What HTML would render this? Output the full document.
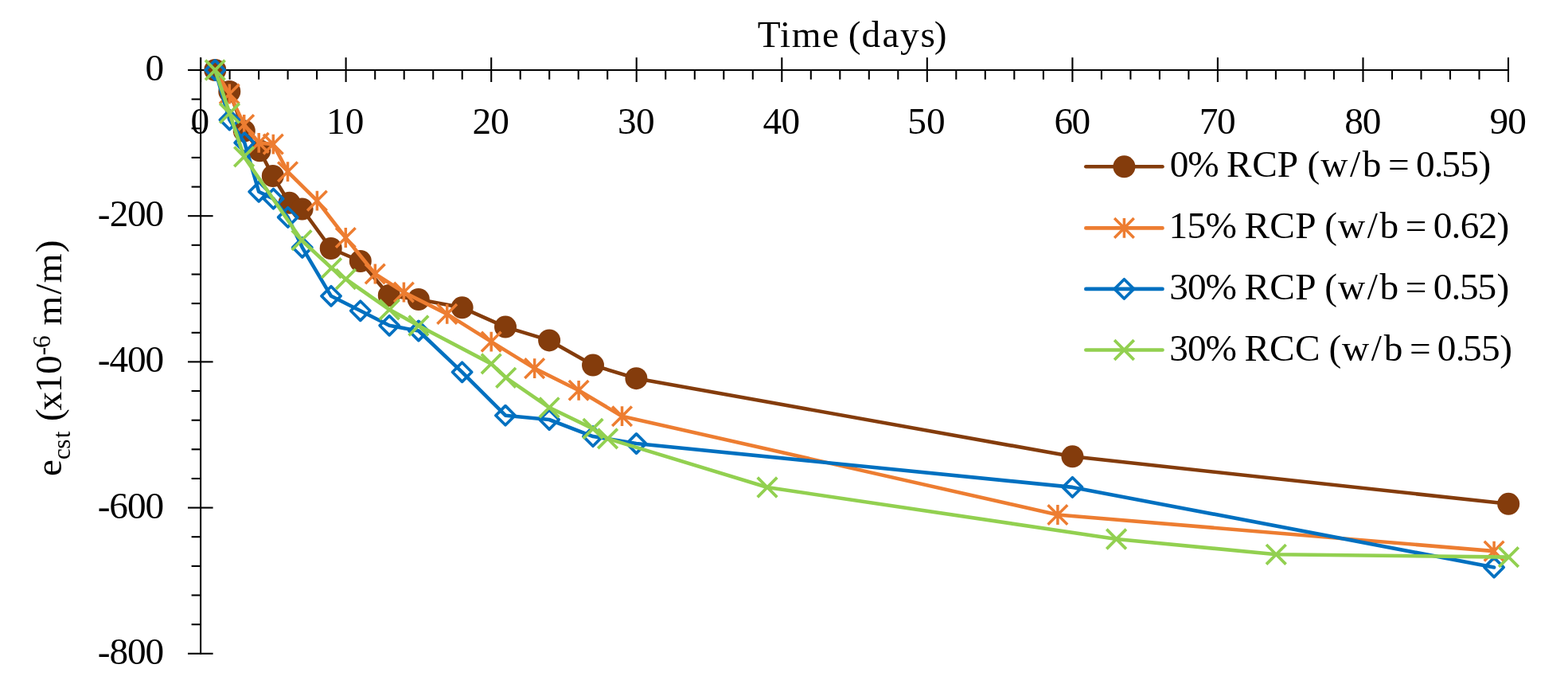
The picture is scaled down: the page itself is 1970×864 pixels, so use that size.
<!DOCTYPE html>
<html><head><meta charset="utf-8"><title>Chart</title>
<style>html,body{margin:0;padding:0;background:#fff;} svg{display:block;}</style>
</head><body>
<svg width="1970" height="864" viewBox="0 0 1970 864">
<rect width="1970" height="864" fill="#fff"/>
<g stroke="#000" stroke-width="2.1" fill="none"><line x1="236" y1="88" x2="1895.9" y2="88" /><line x1="252.1" y1="72.2" x2="252.1" y2="821.8" /><line x1="252.1" y1="72.2" x2="252.1" y2="103" /><line x1="434.6" y1="72.2" x2="434.6" y2="103" /><line x1="617.2" y1="72.2" x2="617.2" y2="103" /><line x1="799.7" y1="72.2" x2="799.7" y2="103" /><line x1="982.3" y1="72.2" x2="982.3" y2="103" /><line x1="1164.8" y1="72.2" x2="1164.8" y2="103" /><line x1="1347.4" y1="72.2" x2="1347.4" y2="103" /><line x1="1529.9" y1="72.2" x2="1529.9" y2="103" /><line x1="1712.5" y1="72.2" x2="1712.5" y2="103" /><line x1="1895.0" y1="72.2" x2="1895.0" y2="103" /><line x1="288.6" y1="88" x2="288.6" y2="99.8" /><line x1="325.1" y1="88" x2="325.1" y2="99.8" /><line x1="361.6" y1="88" x2="361.6" y2="99.8" /><line x1="398.1" y1="88" x2="398.1" y2="99.8" /><line x1="471.2" y1="88" x2="471.2" y2="99.8" /><line x1="507.7" y1="88" x2="507.7" y2="99.8" /><line x1="544.2" y1="88" x2="544.2" y2="99.8" /><line x1="580.7" y1="88" x2="580.7" y2="99.8" /><line x1="653.7" y1="88" x2="653.7" y2="99.8" /><line x1="690.2" y1="88" x2="690.2" y2="99.8" /><line x1="726.7" y1="88" x2="726.7" y2="99.8" /><line x1="763.2" y1="88" x2="763.2" y2="99.8" /><line x1="836.2" y1="88" x2="836.2" y2="99.8" /><line x1="872.8" y1="88" x2="872.8" y2="99.8" /><line x1="909.3" y1="88" x2="909.3" y2="99.8" /><line x1="945.8" y1="88" x2="945.8" y2="99.8" /><line x1="1018.8" y1="88" x2="1018.8" y2="99.8" /><line x1="1055.3" y1="88" x2="1055.3" y2="99.8" /><line x1="1091.8" y1="88" x2="1091.8" y2="99.8" /><line x1="1128.3" y1="88" x2="1128.3" y2="99.8" /><line x1="1201.3" y1="88" x2="1201.3" y2="99.8" /><line x1="1237.8" y1="88" x2="1237.8" y2="99.8" /><line x1="1274.3" y1="88" x2="1274.3" y2="99.8" /><line x1="1310.9" y1="88" x2="1310.9" y2="99.8" /><line x1="1383.9" y1="88" x2="1383.9" y2="99.8" /><line x1="1420.4" y1="88" x2="1420.4" y2="99.8" /><line x1="1456.9" y1="88" x2="1456.9" y2="99.8" /><line x1="1493.4" y1="88" x2="1493.4" y2="99.8" /><line x1="1566.4" y1="88" x2="1566.4" y2="99.8" /><line x1="1602.9" y1="88" x2="1602.9" y2="99.8" /><line x1="1639.4" y1="88" x2="1639.4" y2="99.8" /><line x1="1675.9" y1="88" x2="1675.9" y2="99.8" /><line x1="1749.0" y1="88" x2="1749.0" y2="99.8" /><line x1="1785.5" y1="88" x2="1785.5" y2="99.8" /><line x1="1822.0" y1="88" x2="1822.0" y2="99.8" /><line x1="1858.5" y1="88" x2="1858.5" y2="99.8" /><line x1="236" y1="88.0" x2="267.6" y2="88.0" /><line x1="236" y1="271.2" x2="267.6" y2="271.2" /><line x1="236" y1="454.4" x2="267.6" y2="454.4" /><line x1="236" y1="637.6" x2="267.6" y2="637.6" /><line x1="236" y1="820.8" x2="267.6" y2="820.8" /><line x1="240.6" y1="124.6" x2="252.1" y2="124.6" /><line x1="240.6" y1="161.3" x2="252.1" y2="161.3" /><line x1="240.6" y1="197.9" x2="252.1" y2="197.9" /><line x1="240.6" y1="234.6" x2="252.1" y2="234.6" /><line x1="240.6" y1="307.8" x2="252.1" y2="307.8" /><line x1="240.6" y1="344.5" x2="252.1" y2="344.5" /><line x1="240.6" y1="381.1" x2="252.1" y2="381.1" /><line x1="240.6" y1="417.8" x2="252.1" y2="417.8" /><line x1="240.6" y1="491.0" x2="252.1" y2="491.0" /><line x1="240.6" y1="527.7" x2="252.1" y2="527.7" /><line x1="240.6" y1="564.3" x2="252.1" y2="564.3" /><line x1="240.6" y1="601.0" x2="252.1" y2="601.0" /><line x1="240.6" y1="674.2" x2="252.1" y2="674.2" /><line x1="240.6" y1="710.9" x2="252.1" y2="710.9" /><line x1="240.6" y1="747.5" x2="252.1" y2="747.5" /><line x1="240.6" y1="784.2" x2="252.1" y2="784.2" /></g>
<g font-family="'Liberation Serif', serif" fill="#000"><text x="951.77 979.98 994.63 1032.90 1053.20 1065.70 1082.61 1108.54 1130.93 1156.43 1173.80" y="58.90" font-size="47.3">Time (days)</text><text x="239.38" y="167.80" font-size="47.3">0</text><text x="410.01 433.82" y="167.80" font-size="47.3">10</text><text x="593.53 616.36" y="167.80" font-size="47.3">20</text><text x="776.05 798.91" y="167.80" font-size="47.3">30</text><text x="958.56 981.45" y="167.80" font-size="47.3">40</text><text x="1140.15 1164.00" y="167.80" font-size="47.3">50</text><text x="1324.43 1346.54" y="167.80" font-size="47.3">60</text><text x="1506.76 1529.09" y="167.80" font-size="47.3">70</text><text x="1689.13 1711.63" y="167.80" font-size="47.3">80</text><text x="1871.58 1894.17" y="167.80" font-size="47.3">90</text><text x="182.57" y="100.90" font-size="47.3">0</text><text x="122.75 137.74 160.08 182.58" y="284.10" font-size="47.3">-200</text><text x="122.75 137.38 160.08 182.58" y="467.30" font-size="47.3">-400</text><text x="122.75 137.16 160.08 182.58" y="650.50" font-size="47.3">-600</text><text x="122.75 137.48 160.08 182.58" y="833.70" font-size="47.3">-800</text></g>
<g font-family="'Liberation Serif', serif" fill="#000"><text transform="translate(76.5,600) rotate(-90)" font-size="47.3"><tspan x="1.95" y="0.00" font-size="47.3">e</tspan><tspan x="22.74 36.39 49.71" y="11.00" font-size="31.5">cst</tspan><tspan x="0.00 70.90 84.61 106.82 130.38" y="0.00" font-size="47.3"> (x10</tspan><tspan x="153.84 163.12" y="-13.20" font-size="31.5">-6</tspan><tspan x="0.00 191.58 230.33 244.83 282.65" y="0.00" font-size="47.3"> m/m)</tspan></text></g>
<path d="M270.3,88.0 L288.3,115.0 L306.8,164.5 L326.3,189.3 L342.8,221.0 L363.6,254.8 L379.6,262.5 L415.7,312.0 L452.8,328.0 L488.8,371.0 L525.8,376.0 L580.6,386.3 L635.0,410.6 L690.1,427.4 L745.0,458.6 L799.4,475.2 L1347.4,573.3 L1895.2,632.8" fill="none" stroke="#843C0C" stroke-width="4.6" stroke-linejoin="round" stroke-linecap="round"/><g fill="#843C0C"><circle cx="270.3" cy="88.0" r="14"/><circle cx="288.3" cy="115.0" r="14"/><circle cx="306.8" cy="164.5" r="14"/><circle cx="326.3" cy="189.3" r="14"/><circle cx="342.8" cy="221.0" r="14"/><circle cx="363.6" cy="254.8" r="14"/><circle cx="379.6" cy="262.5" r="14"/><circle cx="415.7" cy="312.0" r="14"/><circle cx="452.8" cy="328.0" r="14"/><circle cx="488.8" cy="371.0" r="14"/><circle cx="525.8" cy="376.0" r="14"/><circle cx="580.6" cy="386.3" r="14"/><circle cx="635.0" cy="410.6" r="14"/><circle cx="690.1" cy="427.4" r="14"/><circle cx="745.0" cy="458.6" r="14"/><circle cx="799.4" cy="475.2" r="14"/><circle cx="1347.4" cy="573.3" r="14"/><circle cx="1895.2" cy="632.8" r="14"/></g>
<path d="M270.3,88.0 L288.3,118.0 L306.7,156.5 L325.2,179.4 L343.3,181.1 L361.5,215.7 L398.4,252.1 L434.3,298.5 L471.3,344.0 L507.4,367.0 L561.7,394.4 L617.2,429.1 L671.6,462.6 L727.1,490.3 L781.5,522.7 L1328.9,646.5 L1877.1,692.1" fill="none" stroke="#ED7D31" stroke-width="4.6" stroke-linejoin="round" stroke-linecap="round"/><g fill="none" stroke="#ED7D31" stroke-width="3.5"><path d="M276.0,105.7 L300.6,130.3 M276.0,130.3 L300.6,105.7 M288.3,105.6 L288.3,130.4"/><path d="M294.4,144.2 L319.0,168.8 M294.4,168.8 L319.0,144.2 M306.7,144.1 L306.7,168.9"/><path d="M312.9,167.1 L337.5,191.7 M312.9,191.7 L337.5,167.1 M325.2,167.0 L325.2,191.8"/><path d="M331.0,168.8 L355.6,193.4 M331.0,193.4 L355.6,168.8 M343.3,168.7 L343.3,193.5"/><path d="M349.2,203.4 L373.8,228.0 M349.2,228.0 L373.8,203.4 M361.5,203.3 L361.5,228.1"/><path d="M386.1,239.8 L410.7,264.4 M386.1,264.4 L410.7,239.8 M398.4,239.7 L398.4,264.5"/><path d="M422.0,286.2 L446.6,310.8 M422.0,310.8 L446.6,286.2 M434.3,286.1 L434.3,310.9"/><path d="M459.0,331.7 L483.6,356.3 M459.0,356.3 L483.6,331.7 M471.3,331.6 L471.3,356.4"/><path d="M495.1,354.7 L519.7,379.3 M495.1,379.3 L519.7,354.7 M507.4,354.6 L507.4,379.4"/><path d="M549.4,382.1 L574.0,406.7 M549.4,406.7 L574.0,382.1 M561.7,382.0 L561.7,406.8"/><path d="M604.9,416.8 L629.5,441.4 M604.9,441.4 L629.5,416.8 M617.2,416.7 L617.2,441.5"/><path d="M659.3,450.3 L683.9,474.9 M659.3,474.9 L683.9,450.3 M671.6,450.2 L671.6,475.0"/><path d="M714.8,478.0 L739.4,502.6 M714.8,502.6 L739.4,478.0 M727.1,477.9 L727.1,502.7"/><path d="M769.2,510.4 L793.8,535.0 M769.2,535.0 L793.8,510.4 M781.5,510.3 L781.5,535.1"/><path d="M1316.6,634.2 L1341.2,658.8 M1316.6,658.8 L1341.2,634.2 M1328.9,634.1 L1328.9,658.9"/><path d="M1864.8,679.8 L1889.4,704.4 M1864.8,704.4 L1889.4,679.8 M1877.1,679.7 L1877.1,704.5"/></g>
<path d="M270.3,88.0 L288.4,150.5 L307.2,179.2 L325.2,240.8 L343.5,249.6 L361.7,272.9 L379.8,310.8 L416.0,371.8 L452.8,390.3 L489.2,408.8 L525.9,415.5 L580.6,467.3 L635.0,521.7 L690.1,527.0 L745.0,548.1 L799.5,557.0 L1347.4,611.9 L1877.1,712.5" fill="none" stroke="#0070C0" stroke-width="4.6" stroke-linejoin="round" stroke-linecap="round"/><g fill="none" stroke="#0070C0" stroke-width="3.7" stroke-linejoin="round"><path d="M270.3,75.9 L282.4,88.0 L270.3,100.1 L258.2,88.0 Z"/><path d="M288.4,138.4 L300.5,150.5 L288.4,162.6 L276.3,150.5 Z"/><path d="M307.2,167.1 L319.3,179.2 L307.2,191.3 L295.1,179.2 Z"/><path d="M325.2,228.7 L337.3,240.8 L325.2,252.9 L313.1,240.8 Z"/><path d="M343.5,237.5 L355.6,249.6 L343.5,261.7 L331.4,249.6 Z"/><path d="M361.7,260.8 L373.8,272.9 L361.7,285.0 L349.6,272.9 Z"/><path d="M379.8,298.7 L391.9,310.8 L379.8,322.9 L367.7,310.8 Z"/><path d="M416.0,359.7 L428.1,371.8 L416.0,383.9 L403.9,371.8 Z"/><path d="M452.8,378.2 L464.9,390.3 L452.8,402.4 L440.7,390.3 Z"/><path d="M489.2,396.7 L501.3,408.8 L489.2,420.9 L477.1,408.8 Z"/><path d="M525.9,403.4 L538.0,415.5 L525.9,427.6 L513.8,415.5 Z"/><path d="M580.6,455.2 L592.7,467.3 L580.6,479.4 L568.5,467.3 Z"/><path d="M635.0,509.6 L647.1,521.7 L635.0,533.8 L622.9,521.7 Z"/><path d="M690.1,514.9 L702.2,527.0 L690.1,539.1 L678.0,527.0 Z"/><path d="M745.0,536.0 L757.1,548.1 L745.0,560.2 L732.9,548.1 Z"/><path d="M799.5,544.9 L811.6,557.0 L799.5,569.1 L787.4,557.0 Z"/><path d="M1347.4,599.8 L1359.5,611.9 L1347.4,624.0 L1335.3,611.9 Z"/><path d="M1877.1,700.4 L1889.2,712.5 L1877.1,724.6 L1865.0,712.5 Z"/></g>
<path d="M270.3,88.0 L288.5,142.2 L306.6,196.8 L379.0,301.7 L416.5,336.6 L434.5,350.5 L489.3,388.8 L525.9,409.0 L617.2,456.9 L635.7,474.3 L690.1,511.8 L745.0,538.4 L763.5,550.9 L964.0,612.0 L1402.6,677.0 L1603.3,696.3 L1895.5,699.6" fill="none" stroke="#92D050" stroke-width="4.6" stroke-linejoin="round" stroke-linecap="round"/><g fill="none" stroke="#92D050" stroke-width="3.75"><path d="M258.0,75.7 L282.6,100.3 M258.0,100.3 L282.6,75.7"/><path d="M276.2,129.9 L300.8,154.5 M276.2,154.5 L300.8,129.9"/><path d="M294.3,184.5 L318.9,209.1 M294.3,209.1 L318.9,184.5"/><path d="M366.7,289.4 L391.3,314.0 M366.7,314.0 L391.3,289.4"/><path d="M404.2,324.3 L428.8,348.9 M404.2,348.9 L428.8,324.3"/><path d="M422.2,338.2 L446.8,362.8 M422.2,362.8 L446.8,338.2"/><path d="M477.0,376.5 L501.6,401.1 M477.0,401.1 L501.6,376.5"/><path d="M513.6,396.7 L538.2,421.3 M513.6,421.3 L538.2,396.7"/><path d="M604.9,444.6 L629.5,469.2 M604.9,469.2 L629.5,444.6"/><path d="M623.4,462.0 L648.0,486.6 M623.4,486.6 L648.0,462.0"/><path d="M677.8,499.5 L702.4,524.1 M677.8,524.1 L702.4,499.5"/><path d="M732.7,526.1 L757.3,550.7 M732.7,550.7 L757.3,526.1"/><path d="M751.2,538.6 L775.8,563.2 M751.2,563.2 L775.8,538.6"/><path d="M951.7,599.7 L976.3,624.3 M951.7,624.3 L976.3,599.7"/><path d="M1390.3,664.7 L1414.9,689.3 M1390.3,689.3 L1414.9,664.7"/><path d="M1591.0,684.0 L1615.6,708.6 M1591.0,708.6 L1615.6,684.0"/><path d="M1883.2,687.3 L1907.8,711.9 M1883.2,711.9 L1907.8,687.3"/></g>
<line x1="1364.3" y1="209.3" x2="1460.5" y2="209.3" stroke="#843C0C" stroke-width="4.6" stroke-linecap="round"/><circle cx="1412.4" cy="209.3" r="14" fill="#843C0C"/><text x="1469.67 1492.30 1529.00 1540.98 1573.16 1604.66 1630.00 1642.50 1659.20 1695.88 1711.73 1733.10 1743.99 1768.20 1778.88 1801.79 1811.17 1834.22 1857.40" y="222.40" font-size="47.3" font-family="'Liberation Serif', serif">0% RCP (w/b = 0.55)</text><line x1="1364.3" y1="286.4" x2="1460.5" y2="286.4" stroke="#ED7D31" stroke-width="4.6" stroke-linecap="round"/><g fill="none" stroke="#ED7D31" stroke-width="3.5"><path d="M1400.1,274.1 L1424.7,298.7 M1400.1,298.7 L1424.7,274.1 M1412.4,274.0 L1412.4,298.8"/></g><text x="1468.57 1491.52 1514.50 1551.40 1563.58 1595.21 1627.26 1652.40 1664.30 1681.00 1717.68 1733.53 1754.90 1765.79 1790.00 1800.67 1823.59 1834.71 1857.49 1880.50" y="299.40" font-size="47.3" font-family="'Liberation Serif', serif">15% RCP (w/b = 0.62)</text><line x1="1364.3" y1="362.9" x2="1460.5" y2="362.9" stroke="#0070C0" stroke-width="4.6" stroke-linecap="round"/><g fill="none" stroke="#0070C0" stroke-width="3.7" stroke-linejoin="round"><path d="M1412.4,350.8 L1424.5,362.9 L1412.4,375.0 L1400.3,362.9 Z"/></g><text x="1469.32 1492.02 1514.50 1551.40 1563.58 1595.21 1627.26 1652.40 1664.30 1681.00 1717.68 1733.53 1754.90 1765.79 1790.00 1800.67 1823.59 1833.97 1856.47 1880.50" y="376.10" font-size="47.3" font-family="'Liberation Serif', serif">30% RCP (w/b = 0.55)</text><line x1="1364.3" y1="439.5" x2="1460.5" y2="439.5" stroke="#92D050" stroke-width="4.6" stroke-linecap="round"/><g fill="none" stroke="#92D050" stroke-width="3.75"><path d="M1400.1,427.2 L1424.7,451.8 M1400.1,451.8 L1424.7,427.2"/></g><text x="1469.32 1492.02 1514.50 1551.40 1563.58 1594.96 1627.06 1657.10 1669.40 1686.10 1722.78 1738.63 1760.00 1770.89 1795.10 1805.77 1828.69 1838.07 1860.92 1884.30" y="452.90" font-size="47.3" font-family="'Liberation Serif', serif">30% RCC (w/b = 0.55)</text>
</svg>
</body></html>
